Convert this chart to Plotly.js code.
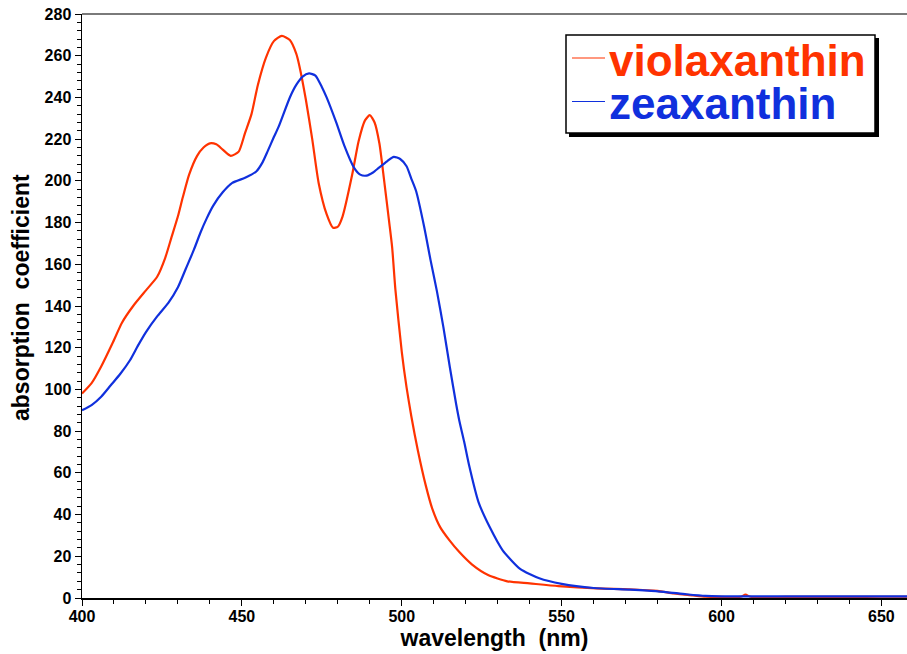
<!DOCTYPE html>
<html>
<head>
<meta charset="utf-8">
<script src="https://cdn.plot.ly/plotly-3.0.1.min.js"></script>
<style>
  html, body { margin: 0; padding: 0; background: #fff; }
  #chart { width: 907px; height: 654px; }
</style>
</head>
<body>
<div id="chart"></div>
<script>
// ---- data ----
const violaWavelength = [400,403,406,409.5,412.5,416,420,423.5,426,428,430,431.5,433.5,436,438,440,442,444,446.5,449,451,453,455,457.5,460,462.5,465,467,468,470,472,474,476.5,478.5,480,481.5,484.5,486.5,488.5,490,491.5,493,494.5,496,497,498,500,501.5,503,505,507.5,509.5,512,515,518,522,527,533,540,549,561,571,580,585,591,595,600,606,607.5,609,620,630,640,650,658];
const violaAbsorption = [98,103,111,122,132,140,147.5,154,163,173,183,192,203,212,216,218,217.5,215,212,214,223,232,246,259,267,269.5,267.5,261,255,239,220,199,184,177.5,178,183,203,219,229,231.5,228,218,200,181,168,148,118,101,87,71,54,43,34,27.5,22,16,11,8,7,5.7,4.6,4.2,3.4,2.2,1.2,0.6,0.5,0.6,1.6,0.6,0.5,0.5,0.5,0.6,0.6];

const zeaWavelength = [400,403,406,409,412,415,417.5,420,423.5,427,430,432.5,435,437,439,441,444,447,451,454.5,456.5,458,460,461.5,465,467,469,471,473,475,476.5,479.5,482,485,487,489,491,493,495.5,497.5,499.5,501.5,503,504.5,507,509,511,513,515,517,518,519.5,521,524,527.5,531.5,537,543,550,560,571,580,589,595,600,620,640,658];
const zeaAbsorption = [90,92.5,96.5,102,107.5,114,121,127.5,135,141.5,149,158,167,175,182,188,194.5,199,201.5,204.5,209,214,221,226,240,246,250,251.5,250.5,245,240,228,217,206.5,203,202.5,204,206.5,209.5,211.5,210.5,207,201,195,178,162,147,130,111,93,85,75,64,46,34,23,14,9.5,6.8,4.8,4.0,3.2,1.8,1,0.8,0.8,0.8,0.8];

const seriesNames = ['violaxanthin', 'zeaxanthin'];
const seriesColors = ['#ff3300', '#1030dd'];
const xTitle = 'wavelength&nbsp; (nm)';
const yTitle = 'absorption&nbsp; coefficient';

// ---- layout geometry (pixels) ----
const W = 907, H = 654;
const M = {l: 82, r: 0, t: 14, b: 56};
const PW = W - M.l - M.r, PH = H - M.t - M.b;
const px = x => (x - M.l) / PW;
const py = y => 1 - (y - M.t) / PH;

const FONT = 'Liberation Sans, Arial, Helvetica, sans-serif';

const traces = [
  {x: violaWavelength, y: violaAbsorption, name: seriesNames[0], type: 'scatter', mode: 'lines',
   line: {color: seriesColors[0], width: 2.2, shape: 'spline', smoothing: 0.6}},
  {x: zeaWavelength, y: zeaAbsorption, name: seriesNames[1], type: 'scatter', mode: 'lines',
   line: {color: seriesColors[1], width: 2.2, shape: 'spline', smoothing: 0.6}}
];

const legendText = seriesNames.map((n, i) =>
  '<span style="color:' + seriesColors[i] + ';font-size:44px">' + n + '</span>').join('<br>');

const layout = {
  width: W, height: H,
  margin: M,
  paper_bgcolor: '#fff', plot_bgcolor: '#fff',
  showlegend: false,
  font: {family: FONT, color: '#000'},
  xaxis: {
    range: [400, 658], tick0: 400, dtick: 50,
    ticks: 'outside', ticklen: 6, tickwidth: 1, tickcolor: '#000',
    minor: {dtick: 10, ticks: 'outside', ticklen: 4, tickwidth: 1, tickcolor: '#000'},
    showline: true, linecolor: '#000', linewidth: 1.5,
    showgrid: false, zeroline: false,
    tickfont: {family: FONT, size: 16, weight: 'bold', color: '#000'},
    ticklabelstandoff: -3,
    title: {text: xTitle, font: {family: FONT, size: 23, weight: 'bold', color: '#000'}, standoff: 6},
    automargin: false
  },
  yaxis: {
    range: [0, 280], tick0: 0, dtick: 20,
    ticks: 'outside', ticklen: 6, tickwidth: 1, tickcolor: '#000',
    minor: {dtick: 4, ticks: 'outside', ticklen: 3.5, tickwidth: 1, tickcolor: '#000'},
    showline: true, linecolor: '#000', linewidth: 1.5,
    showgrid: false, zeroline: false,
    tickfont: {family: FONT, size: 16, weight: 'bold', color: '#000'},
    automargin: false
  },
  shapes: [
    // top frame line
    {type: 'line', xref: 'paper', yref: 'paper', x0: 0, x1: 1, y0: 1, y1: 1,
     line: {color: '#7a7a7a', width: 2}},
    // legend shadow + box
    {type: 'rect', xref: 'paper', yref: 'paper', x0: px(569), x1: px(879), y0: py(137), y1: py(38),
     fillcolor: '#000', line: {width: 0}},
    {type: 'rect', xref: 'paper', yref: 'paper', x0: px(566), x1: px(875), y0: py(133), y1: py(35),
     fillcolor: '#fff', line: {color: '#000', width: 1.5}},
    // legend line samples
    {type: 'line', xref: 'paper', yref: 'paper', x0: px(572), x1: px(605), y0: py(58), y1: py(58),
     line: {color: seriesColors[0], width: 1.2}},
    {type: 'line', xref: 'paper', yref: 'paper', x0: px(572), x1: px(605), y0: py(101.5), y1: py(101.5),
     line: {color: seriesColors[1], width: 1.2}}
  ],
  annotations: [
    {text: yTitle, xref: 'paper', yref: 'paper', x: px(21), y: py(298), showarrow: false,
     textangle: -90, xanchor: 'center', yanchor: 'middle',
     font: {family: FONT, size: 23, weight: 'bold', color: '#000'}},
    {text: legendText, xref: 'paper', yref: 'paper', x: px(607), y: py(82), showarrow: false,
     xanchor: 'left', yanchor: 'middle', align: 'left',
     font: {family: FONT, size: 33, weight: 'bold', color: '#000'}}
  ]
};

Plotly.newPlot('chart', traces, layout, {staticPlot: true, displayModeBar: false});
</script>
</body>
</html>
